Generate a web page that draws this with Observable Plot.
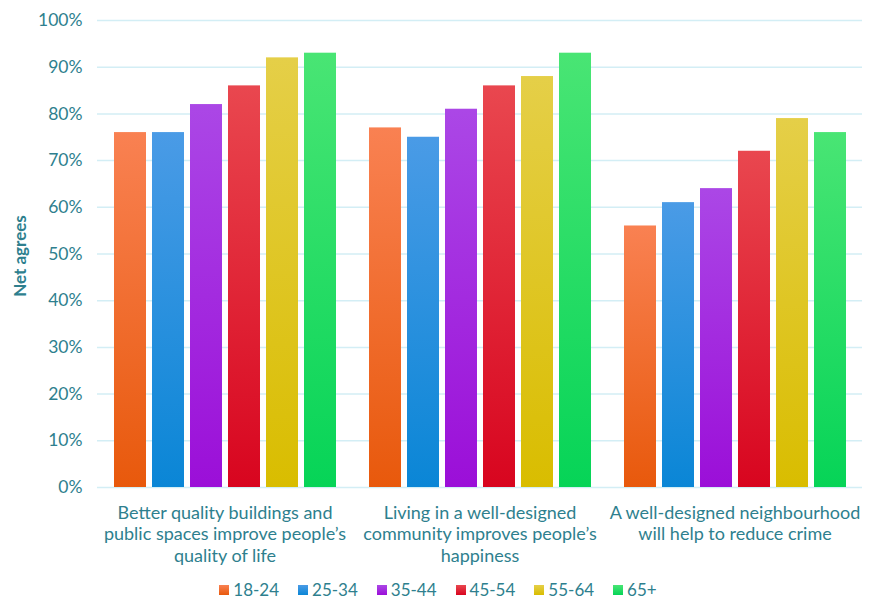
<!DOCTYPE html>
<html>
<head>
<meta charset="utf-8">
<script src="https://cdn.jsdelivr.net/npm/d3@7"></script>
<script src="https://cdn.jsdelivr.net/npm/@observablehq/plot@0.6"></script>
<style>
  html, body { margin: 0; background: #fff; font-family: Lato, "Open Sans", sans-serif; }
  #chart svg { display: block; }
  #legend { display: flex; justify-content: center; align-items: center; gap: 19px; margin-top: 2px; height: 20px; line-height: 20px; font-size: 17px; color: #2e7f8e; }
  #legend .item { display: flex; align-items: center; gap: 4px; }
  #legend .sw { width: 10px; height: 10px; display: inline-block; }
</style>
</head>
<body>
<div id="chart"></div>
<div id="legend"></div>
<script>
const categories = [
  "Better quality buildings and\npublic spaces improve people’s\nquality of life",
  "Living in a well-designed\ncommunity improves people’s\nhappiness",
  "A well-designed neighbourhood\nwill help to reduce crime"
];
const ages = ["18-24", "25-34", "35-44", "45-54", "55-64", "65+"];
const v1824 = [76, 77, 56];
const v2534 = [76, 75, 61];
const v3544 = [82, 81, 64];
const v4554 = [86, 86, 72];
const v5564 = [92, 88, 79];
const v65 = [93, 93, 76];
const topColors = ["#f98152", "#4a9be6", "#ab47e6", "#e9474f", "#e5cf48", "#49e574"];
const bottomColors = ["#e8590c", "#0a86d6", "#9b0fd8", "#d8051f", "#d9bd00", "#06d457"];
const yTicks = [0, 10, 20, 30, 40, 50, 60, 70, 80, 90, 100];

const series = [v1824, v2534, v3544, v4554, v5564, v65];
const data = [];
categories.forEach((c, ci) => ages.forEach((a, ai) => data.push({cat: c, age: a, ai, value: series[ai][ci]})));

const teal = "#2e7f8e";
const plot = Plot.plot({
  width: 876,
  height: 578,
  marginTop: 20,
  marginBottom: 91,
  marginLeft: 97,
  marginRight: 14,
  style: {fontFamily: "Lato, sans-serif", fontSize: "17.5px", color: teal, background: "#fff"},
  fx: {domain: categories, padding: 0, axis: null},
  x: {domain: ages, paddingInner: 0.16, paddingOuter: 0.39, axis: null},
  y: {domain: [0, 100], axis: null},
  color: {type: "identity"},
  marks: [
    Plot.ruleY(yTicks, {stroke: "#d3eef5", strokeWidth: 1.5}),
    Plot.barY(data, {fx: "cat", x: "age", y: "value", fill: d => `url(#grad${d.ai})`}),
    Plot.text(yTicks, {fx: () => categories[0], y: d => d, text: d => d + "%", frameAnchor: "left", textAnchor: "end", dx: -15, fill: teal, fontSize: 17.5}),
    Plot.text([categories[0]], {fx: d => d, text: () => "Net agrees", frameAnchor: "left", textAnchor: "middle", rotate: -90, dx: -77, dy: 2, fontWeight: "bold", fill: teal, fontSize: 17}),
    Plot.text(categories, {fx: d => d, text: d => d, frameAnchor: "bottom", lineAnchor: "top", dy: 16, lineHeight: 1.2, fill: teal, fontSize: 18})
  ]
});

const ns = "http://www.w3.org/2000/svg";
const defs = document.createElementNS(ns, "defs");
ages.forEach((a, i) => {
  const g = document.createElementNS(ns, "linearGradient");
  g.setAttribute("id", "grad" + i);
  g.setAttribute("x1", "0"); g.setAttribute("y1", "0"); g.setAttribute("x2", "0"); g.setAttribute("y2", "1");
  [[0, topColors[i]], [1, bottomColors[i]]].forEach(([o, c]) => {
    const s = document.createElementNS(ns, "stop");
    s.setAttribute("offset", o); s.setAttribute("stop-color", c);
    g.appendChild(s);
  });
  defs.appendChild(g);
});
plot.insertBefore(defs, plot.firstChild);
document.getElementById("chart").appendChild(plot);

const legend = document.getElementById("legend");
ages.forEach((a, i) => {
  const item = document.createElement("span");
  item.className = "item";
  const sw = document.createElement("span");
  sw.className = "sw";
  sw.style.background = `linear-gradient(${topColors[i]}, ${bottomColors[i]})`;
  item.appendChild(sw);
  item.appendChild(document.createTextNode(a));
  legend.appendChild(item);
});
</script>
</body>
</html>
